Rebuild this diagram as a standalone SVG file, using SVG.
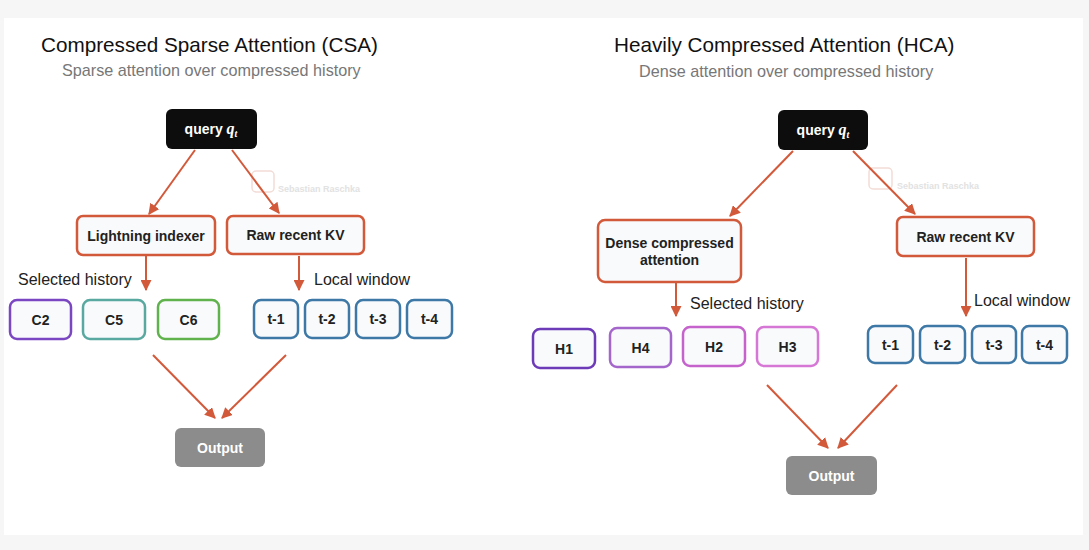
<svg xmlns="http://www.w3.org/2000/svg" width="1089" height="550" viewBox="0 0 1089 550">
<defs>
<marker id="ah" viewBox="0 0 10 10" refX="9" refY="5" markerWidth="5.5" markerHeight="5.5" orient="auto-start-reverse" markerUnits="strokeWidth">
<path d="M0,0 L10,5 L0,10 z" fill="#d2593a"/>
</marker>
<style>
text{font-family:"Liberation Sans",Arial,sans-serif}
.title{font-size:20.7px;fill:#111}
.sub{font-size:16.2px;fill:#777}
.lbl{font-size:16px;fill:#222}
.bt{font-size:14px;font-weight:bold;fill:#222;text-anchor:middle}
.wt{font-size:14px;font-weight:bold;fill:#fff;text-anchor:middle}
.q{fill:#0d0d0d}
.ob{fill:#f9fafc;stroke:#d2593a;stroke-width:2.5}
.cb{fill:#f9fafc;stroke-width:2.5}
.out{fill:#8c8c8c}
.arr{stroke:#d2593a;stroke-width:2;fill:none;marker-end:url(#ah)}
.wm{font-size:9px;font-weight:bold;fill:#e2e2e2}
.wmi{fill:none;stroke:#f3dcd6;stroke-width:1.5}
</style>
</defs>
<rect x="0" y="0" width="1089" height="550" fill="#f6f6f7"/>
<rect x="4" y="18" width="1079" height="517" fill="#ffffff"/>

<!-- watermarks -->
<g id="watermark-left">
<rect class="wmi" x="252" y="171" width="22" height="21" rx="4"/>
<text class="wm" x="278" y="192">Sebastian Raschka</text>
</g>
<g id="watermark-right">
<rect class="wmi" x="869" y="168" width="23" height="21" rx="4"/>
<text class="wm" x="897" y="189">Sebastian Raschka</text>
</g>

<!-- Left panel -->
<g id="csa-title">
<text class="title" x="41" y="52">Compressed Sparse Attention (CSA)</text>
<text class="sub" x="62" y="76">Sparse attention over compressed history</text>
</g>
<g id="csa-query">
<rect class="q" x="166" y="109" width="91" height="40" rx="6"/>
<text class="wt" x="211" y="134">query <tspan font-style="italic" font-family="'Liberation Serif',serif" font-size="16">q</tspan><tspan font-style="italic" font-family="'Liberation Serif',serif" font-size="10" dy="3">t</tspan></text>
</g>
<g id="csa-indexer">
<rect class="ob" x="77" y="216" width="138" height="39" rx="6"/>
<text class="bt" x="146" y="241">Lightning indexer</text>
</g>
<g id="csa-raw">
<rect class="ob" x="227" y="216" width="137" height="38" rx="6"/>
<text class="bt" x="295.5" y="240">Raw recent KV</text>
</g>
<text class="lbl" x="18" y="285">Selected history</text>
<text class="lbl" x="314" y="285">Local window</text>
<g id="csa-c2"><rect class="cb" x="10" y="300" width="61" height="39" rx="7" stroke="#7b46c2"/><text class="bt" x="40.5" y="325">C2</text></g>
<g id="csa-c5"><rect class="cb" x="83" y="300" width="62" height="39" rx="7" stroke="#5aa9a0"/><text class="bt" x="114" y="325">C5</text></g>
<g id="csa-c6"><rect class="cb" x="158" y="300" width="61" height="39" rx="7" stroke="#5fb24c"/><text class="bt" x="188.5" y="325">C6</text></g>
<g id="csa-t1"><rect class="cb" x="254" y="300" width="44" height="38" rx="7" stroke="#3d78a6"/><text class="bt" x="276" y="324">t-1</text></g>
<g id="csa-t2"><rect class="cb" x="305" y="300" width="44" height="38" rx="7" stroke="#3d78a6"/><text class="bt" x="327" y="324">t-2</text></g>
<g id="csa-t3"><rect class="cb" x="356" y="300" width="44" height="38" rx="7" stroke="#3d78a6"/><text class="bt" x="378" y="324">t-3</text></g>
<g id="csa-t4"><rect class="cb" x="407" y="300" width="45" height="38" rx="7" stroke="#3d78a6"/><text class="bt" x="429.5" y="324">t-4</text></g>
<g id="csa-output">
<rect class="out" x="175" y="428" width="90" height="39" rx="6"/>
<text class="wt" x="220" y="453">Output</text>
</g>

<!-- Right panel -->
<g id="hca-title">
<text class="title" x="614" y="52">Heavily Compressed Attention (HCA)</text>
<text class="sub" x="639" y="77">Dense attention over compressed history</text>
</g>
<g id="hca-query">
<rect class="q" x="778" y="110" width="90" height="40" rx="6"/>
<text class="wt" x="823" y="135">query <tspan font-style="italic" font-family="'Liberation Serif',serif" font-size="16">q</tspan><tspan font-style="italic" font-family="'Liberation Serif',serif" font-size="10" dy="3">t</tspan></text>
</g>
<g id="hca-dense">
<rect class="ob" x="598" y="220" width="143" height="62" rx="7"/>
<text class="bt" x="669.5" y="248">Dense compressed</text>
<text class="bt" x="669.5" y="265">attention</text>
</g>
<g id="hca-raw">
<rect class="ob" x="897" y="217" width="137" height="39" rx="6"/>
<text class="bt" x="965.5" y="242">Raw recent KV</text>
</g>
<text class="lbl" x="690" y="309">Selected history</text>
<text class="lbl" x="974" y="306">Local window</text>
<g id="hca-h1"><rect class="cb" x="533" y="329" width="62" height="39" rx="7" stroke="#6d3ab8"/><text class="bt" x="564" y="354">H1</text></g>
<g id="hca-h4"><rect class="cb" x="610" y="328" width="61" height="39" rx="7" stroke="#a566cc"/><text class="bt" x="640.5" y="353">H4</text></g>
<g id="hca-h2"><rect class="cb" x="683" y="327" width="62" height="39" rx="7" stroke="#c562cc"/><text class="bt" x="714" y="352">H2</text></g>
<g id="hca-h3"><rect class="cb" x="757" y="327" width="61" height="39" rx="7" stroke="#d677d6"/><text class="bt" x="787.5" y="352">H3</text></g>
<g id="hca-t1"><rect class="cb" x="868" y="326" width="45" height="37" rx="7" stroke="#3d78a6"/><text class="bt" x="890.5" y="350">t-1</text></g>
<g id="hca-t2"><rect class="cb" x="920" y="326" width="45" height="37" rx="7" stroke="#3d78a6"/><text class="bt" x="942.5" y="350">t-2</text></g>
<g id="hca-t3"><rect class="cb" x="972" y="326" width="44" height="37" rx="7" stroke="#3d78a6"/><text class="bt" x="994" y="350">t-3</text></g>
<g id="hca-t4"><rect class="cb" x="1022" y="326" width="45" height="37" rx="7" stroke="#3d78a6"/><text class="bt" x="1044.5" y="350">t-4</text></g>
<g id="hca-output">
<rect class="out" x="786" y="456" width="91" height="39" rx="6"/>
<text class="wt" x="831.5" y="481">Output</text>
</g>

<g id="connectors">
<line class="arr" x1="195" y1="150" x2="149" y2="214"/>
<line class="arr" x1="232" y1="150" x2="279" y2="213"/>
<line class="arr" x1="146" y1="256" x2="146" y2="290"/>
<line class="arr" x1="299" y1="256" x2="299" y2="290"/>
<line class="arr" x1="153" y1="355" x2="215" y2="418"/>
<line class="arr" x1="286" y1="355" x2="222" y2="418"/>
<line class="arr" x1="793" y1="151" x2="730" y2="216"/>
<line class="arr" x1="853" y1="151" x2="915" y2="214"/>
<line class="arr" x1="676" y1="283" x2="676" y2="316"/>
<line class="arr" x1="966" y1="258" x2="966" y2="316"/>
<line class="arr" x1="767" y1="385" x2="828" y2="448"/>
<line class="arr" x1="897" y1="385" x2="838" y2="448"/>
</g>
</svg>
